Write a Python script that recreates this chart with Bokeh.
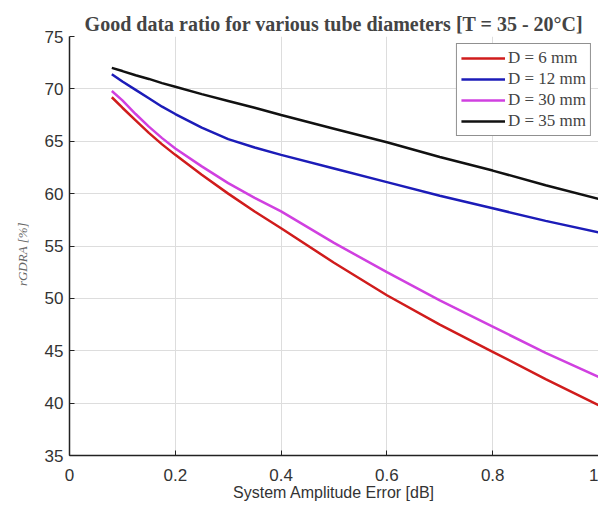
from bokeh.plotting import figure
from bokeh.models import Legend, LegendItem, FixedTicker, Range1d
from bokeh.embed import file_html
from bokeh.resources import INLINE

x_err = [0.08, 0.10, 0.125, 0.15, 0.175, 0.20, 0.25, 0.30, 0.35, 0.40, 0.50, 0.60, 0.70, 0.80, 0.90, 1.00]
r_6mm = [69.2, 68.2, 67.0, 65.8, 64.7, 63.7, 61.8, 60.0, 58.3, 56.7, 53.4, 50.3, 47.5, 44.9, 42.3, 39.8]
r_12mm = [71.4, 70.7, 69.9, 69.1, 68.3, 67.6, 66.3, 65.2, 64.4, 63.7, 62.4, 61.1, 59.8, 58.6, 57.4, 56.3]
r_30mm = [69.8, 68.9, 67.6, 66.4, 65.3, 64.3, 62.6, 61.0, 59.6, 58.3, 55.3, 52.5, 49.8, 47.3, 44.8, 42.5]
r_35mm = [72.0, 71.7, 71.3, 70.95, 70.55, 70.2, 69.5, 68.85, 68.2, 67.5, 66.2, 64.9, 63.5, 62.2, 60.8, 59.5]
series_labels = ["D = 6 mm", "D = 12 mm", "D = 30 mm", "D = 35 mm"]
series_colors = ["#d01c1c", "#1c1cb8", "#d040e0", "#111111"]
x_ticks = [0, 0.2, 0.4, 0.6, 0.8, 1.0]
y_ticks = [35, 40, 45, 50, 55, 60, 65, 70, 75]

p = figure(width=598, height=503, output_backend="svg", toolbar_location=None,
           x_range=Range1d(0, 1), y_range=Range1d(35, 75),
           min_border_left=69, min_border_right=0, min_border_top=36, min_border_bottom=48)

p.title.text = "Good data ratio for various tube diameters [T = 35 - 20\u00b0C]"
p.title.text_font = "Liberation Serif"
p.title.text_font_size = "20px"
p.title.text_font_style = "bold"
p.title.align = "center"
p.title.offset = 0
p.title.standoff = 4

renderers = []
for ys, c in zip([r_6mm, r_12mm, r_30mm, r_35mm], series_colors):
    renderers.append(p.line(x_err, ys, line_color=c, line_width=2.5))

legend = Legend(items=[LegendItem(label=l, renderers=[r]) for l, r in zip(series_labels, renderers)],
                location="top_right")
legend.label_text_font = "Liberation Serif"
legend.label_text_font_size = "17px"
legend.glyph_width = 44
legend.glyph_height = 20
legend.label_height = 20
legend.label_standoff = 3
legend.spacing = 1
legend.padding = 4
legend.margin = 7
legend.border_line_color = "#222222"
legend.border_line_width = 1
legend.background_fill_alpha = 1
p.add_layout(legend)

p.xaxis.ticker = FixedTicker(ticks=x_ticks)
p.yaxis.ticker = FixedTicker(ticks=y_ticks)
for ax in (p.xaxis, p.yaxis):
    ax.major_tick_in = 5
    ax.major_tick_out = 0
    ax.minor_tick_in = 0
    ax.minor_tick_out = 0
    ax.axis_line_color = "#222222"
    ax.axis_line_width = 1.5
    ax.major_tick_line_color = "#222222"
    ax.major_label_text_font = "Liberation Sans"
    ax.major_label_text_font_size = "17px"
    ax.major_label_text_color = "#333333"
p.xaxis.major_label_overrides = {0: "0", 1: "1"}
p.xaxis.major_label_standoff = 13
p.yaxis.major_label_standoff = 6
p.xaxis.axis_label = "System Amplitude Error [dB]"
p.xaxis.axis_label_text_font = "Liberation Sans"
p.xaxis.axis_label_text_font_size = "16px"
p.xaxis.axis_label_text_font_style = "normal"
p.xaxis.axis_label_text_color = "#333333"
p.xaxis.axis_label_standoff = 0

p.yaxis.axis_label = "rGDRA      [%]"
p.yaxis.axis_label_text_font = "Liberation Serif"
p.yaxis.axis_label_text_font_size = "13px"
p.yaxis.axis_label_text_font_style = "italic"
p.yaxis.axis_label_text_color = "#666666"
p.yaxis.axis_label_standoff = 12

p.xgrid.grid_line_color = "#dddddd"
p.ygrid.grid_line_color = "#dddddd"
p.outline_line_color = None

open("out.html", "w").write(file_html(p, INLINE))
